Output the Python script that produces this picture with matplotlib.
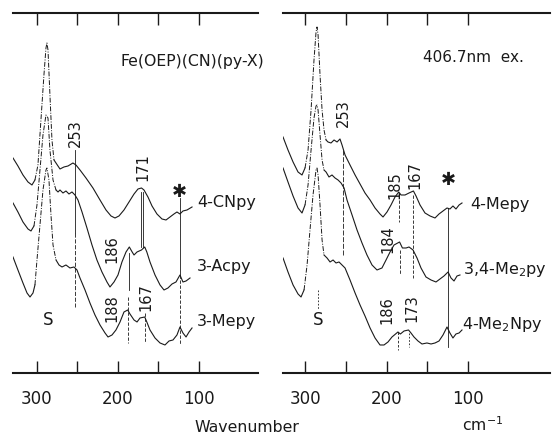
import matplotlib
matplotlib.use("Agg")
import matplotlib.pyplot as plt
import numpy as np

# Resonance Raman spectra, Fe(OEP)(CN)(py-X), 406.7 nm excitation.
# x: wavenumber (cm-1), y: intensity incl. vertical offset of each trace

# left panel
cnpy_wn = [329.6, 323.5, 317.3, 311.1, 306.2, 302.5,
           298.8, 295.1, 291.4, 288.9, 287.7, 286.4, 284.0, 281.5, 279.0,
           271.6, 266.7, 261.7, 255.6, 251.9, 246.9, 239.5, 230.9, 222.2, 214.8,
           208.6, 203.7, 198.8, 192.6, 186.4, 180.2, 175.3, 171.0, 167.9, 163.0,
           158.0, 151.9, 145.7, 140.7, 135.8, 130.9, 127.2, 123.5, 119.8, 114.8, 108.6]
cnpy_int = [215, 207, 198, 191, 188, 193,
            208, 253, 298, 325, 330, 323, 278, 233, 213,
            204, 206, 207, 210, 208, 203, 195, 185, 173, 163,
            157, 155, 157, 163, 171, 179, 184, 185, 183, 176,
            167, 159, 154, 153, 156, 159, 161, 159, 162, 163, 166]

acpy_wn = [329.6, 323.5, 317.3, 311.1, 307.4, 303.7,
           300.0, 296.3, 292.6, 288.9, 286.4, 284.0, 280.2, 276.5,
           274.0, 271.6, 267.9, 264.2, 260.5, 256.8, 253.1, 249.4, 244.4, 238.3,
           232.1, 226.0, 219.8, 213.6, 209.9, 204.9, 200.0, 195.1, 190.1, 186.0,
           182.5, 180.2, 176.5, 171.0, 167.0, 164.4, 160.5, 154.3, 148.1, 143.2,
           138.3, 133.3, 128.4, 123.5, 119.8, 116.0, 111.1]
acpy_int = [170, 161, 151, 144, 142, 147,
            168, 203, 238, 258, 255, 223, 193, 183,
            181, 183, 180, 182, 179, 181, 178, 173, 161, 145,
            128, 113, 101, 91, 86, 91, 98, 111, 121, 126,
            121, 118, 121, 123, 126, 121, 111, 98, 88, 83,
            85, 89, 91, 98, 91, 92, 95]

mepy3_wn = [329.6, 323.5, 317.3, 312.3, 308.6, 304.9, 302.5,
            300.0, 296.3, 292.6, 288.9, 287.7, 285.2, 282.7, 280.2, 276.5,
            272.8, 269.1, 264.2, 259.3, 254.3, 250.6, 246.9, 240.7, 234.6, 228.4,
            222.2, 216.0, 212.3, 207.4, 202.5, 197.5, 192.6, 188.0, 185.2, 180.2,
            176.5, 172.8, 167.0, 164.4, 160.5, 154.3, 148.1, 142.0, 137.0, 132.1,
            127.2, 123.5, 119.8, 116.0, 112.3, 108.6]
mepy3_int = [116, 103, 90, 80, 76, 80, 88,
             113, 148, 183, 203, 205, 193, 158, 128, 113,
             108, 106, 108, 105, 106, 103, 95, 83, 70, 58,
             48, 40, 36, 38, 43, 51, 61, 63, 59, 53,
             51, 55, 56, 51, 43, 35, 30, 28, 32, 33,
             38, 46, 40, 36, 41, 45]

# right panel
mepy4_wn = [327.0, 320.9, 314.7, 308.6, 303.7, 300.0,
            296.3, 292.6, 289.0, 286.5, 285.3, 284.0, 281.6, 279.1, 276.7, 274.2,
            271.8, 268.1, 264.4, 260.7, 257.1, 254.6, 250.9, 244.8, 238.6, 232.5,
            226.4, 220.2, 214.1, 208.0, 204.3, 199.4, 194.5, 189.6, 185.0, 182.2,
            177.3, 172.4, 167.0, 163.8, 158.9, 152.8, 146.6, 140.5, 135.6, 130.7,
            125.8, 122.2, 118.5, 114.8, 111.0, 107.4]
mepy4_int = [236, 223, 211, 201, 198, 205,
             223, 263, 313, 341, 346, 338, 298, 263, 243, 233,
             231, 230, 233, 231, 234, 228, 218, 208, 198, 189,
             180, 173, 165, 159, 156, 161, 168, 176, 181, 178,
             178, 180, 182, 177, 168, 160, 157, 155, 159, 162,
             165, 164, 167, 164, 168, 170]

me2py_wn = [327.0, 320.9, 314.7, 308.6, 303.7, 300.0,
            296.3, 292.6, 289.0, 286.5, 285.3, 284.0, 281.6, 279.1, 276.7,
            274.2, 270.6, 266.9, 263.2, 259.5, 255.8, 252.1, 248.5, 242.3, 236.2,
            230.1, 224.0, 217.8, 211.7, 205.6, 200.6, 195.7, 190.8, 184.0, 180.5,
            176.0, 172.4, 167.5, 162.6, 157.7, 151.6, 145.4, 139.3, 134.4, 129.5,
            124.5, 120.9, 117.2, 113.5, 109.9]
me2py_int = [205, 191, 177, 165, 160, 168,
             188, 223, 255, 267, 268, 263, 238, 213, 203,
             201, 196, 198, 195, 193, 190, 185, 173, 158, 143,
             130, 118, 108, 103, 105, 113, 121, 128, 131, 125,
             125, 126, 123, 115, 105, 96, 93, 91, 94, 97,
             101, 95, 92, 97, 98]

me2npy_wn = [327.0, 320.9, 314.7, 308.6, 304.9, 301.2,
             297.5, 293.9, 290.2, 286.5, 285.3, 284.0, 281.6, 279.1, 276.7,
             273.0, 269.3, 265.6, 262.0, 258.3, 254.6, 250.9, 244.8, 238.6, 232.5,
             226.4, 220.2, 214.1, 208.0, 203.1, 198.2, 193.3, 186.0, 183.0, 178.5,
             173.0, 170.0, 166.3, 161.4, 156.5, 150.4, 145.4, 140.5, 135.6, 130.7,
             125.8, 122.2, 118.5, 114.8, 111.0, 107.4]
me2npy_int = [115, 101, 88, 79, 76, 83,
              108, 143, 178, 203, 205, 198, 168, 133, 118,
              115, 111, 113, 110, 111, 108, 105, 93, 80, 68,
              57, 45, 35, 28, 28, 31, 36, 41, 39, 42,
              43, 40, 36, 32, 29, 30, 29, 30, 32, 38,
              46, 40, 35, 39, 40, 43]

# solvent (S) band limits drawn broken, per trace (high, low) in cm-1
left_s_edges = [(302.5, 279.0), (303.7, 276.5), (302.5, 276.5)]
right_s_edges = [(300.0, 274.2), (300.0, 276.7), (301.2, 276.7)]

left_names = ["4-CNpy", "3-Acpy", "3-Mepy"]
right_names = ["4-Mepy", "3,4-Me$_2$py", "4-Me$_2$Npy"]

# marked bands: (cm-1, from, to, style)
left_marks = [(253, 223, 140, "-"), (253, 140, 66, (0, (5, 2))),
              (171.6, 181, 126, "-"), (169.6, 181, 126, "-"),
              (186, 120, 83, "-"), (188, 76, 30, (0, (4, 2))),
              (167, 60, 30, (0, (4, 2))),
              (123.5, 175, 98, "-"), (123.5, 98, 28, (0, (4, 2)))]
right_marks = [(253, 223, 118, (0, (6, 2))), (185, 173, 151, (0, (4, 2))),
               (184, 123, 98, (0, (4, 2))), (186, 41, 23, (0, (3, 2))),
               (167, 178, 95, (0, (4, 2))), (173, 40, 26, (0, (2, 2))),
               (124.5, 165, 26, "-"), (284, 83, 63, (0, (2, 2)))]

ink = "#1a1a1a"

fig = plt.figure(figsize=(5.53, 4.33), dpi=100)
ax1 = fig.add_axes([0.0235, 0.1386, 0.4430, 0.8314])
ax2 = fig.add_axes([0.5118, 0.1386, 0.4828, 0.8314])


def draw_trace(ax, wn, inten, edges):
    wn = np.asarray(wn)
    inten = np.asarray(inten)
    hi, lo = edges
    left = wn >= hi
    right = wn <= lo
    band = (wn <= hi) & (wn >= lo)
    ax.plot(wn[left], inten[left], color=ink, lw=0.8)
    ax.plot(wn[right], inten[right], color=ink, lw=0.8)
    ax.plot(wn[band], inten[band], color=ink, lw=0.7,
            linestyle=(0, (5, 1.5, 1, 1.5)))


def style_axis(ax, xlim):
    ax.set_xlim(*xlim)
    ax.set_ylim(0, 360)
    for s in ("left", "right"):
        ax.spines[s].set_visible(False)
    for s in ("top", "bottom"):
        ax.spines[s].set_linewidth(1.5)
        ax.spines[s].set_color(ink)
    ax.set_yticks([])
    ax.set_xticks([300, 200, 100])
    ax.set_xticks([250, 150], minor=True)
    ax.tick_params(axis="x", which="both", direction="in", length=8.5,
                   width=1.0, top=True, bottom=True, colors=ink,
                   labelsize=12, pad=12)
    ax.patch.set_alpha(0)


for wn, inten, edges in zip([cnpy_wn, acpy_wn, mepy3_wn],
                            [cnpy_int, acpy_int, mepy3_int], left_s_edges):
    draw_trace(ax1, wn, inten, edges)
for wn, inten, edges in zip([mepy4_wn, me2py_wn, me2npy_wn],
                            [mepy4_int, me2py_int, me2npy_int], right_s_edges):
    draw_trace(ax2, wn, inten, edges)

for ax, marks in ((ax1, left_marks), (ax2, right_marks)):
    for x, y0, y1, ls in marks:
        ax.plot([x, x], [y0, y1], color=ink, lw=0.6, linestyle=ls)

style_axis(ax1, (329.6, 27.2))
style_axis(ax2, (327.0, -0.6))

# sample names
for ax, names, xs, ys in ((ax1, left_names, [102.5] * 3, [170, 106, 51]),
                          (ax2, right_names, [97.5, 106, 107.4], [168, 103, 48])):
    for name, x, y in zip(names, xs, ys):
        ax.text(x, y, name, fontsize=11.5, ha="left", va="center", color=ink)

# band positions
rot = dict(rotation=90, ha="center", va="center", fontsize=10.5, color=ink)
ax1.text(253, 240, "253", **rot)
ax1.text(169.5, 206, "171", **rot)
ax1.text(207, 124, "186", **rot)
ax1.text(207, 65, "188", **rot)
ax1.text(165, 76, "167", **rot)
ax2.text(253.4, 260, "253", **rot)
ax2.text(189.6, 188, "185", **rot)
ax2.text(165, 198, "167", **rot)
ax2.text(198, 134, "184", **rot)
ax2.text(199.4, 63, "186", **rot)
ax2.text(168.7, 65, "173", **rot)

ax1.text(124, 181, "✱", fontsize=13, ha="center", va="center", color=ink)
ax2.text(124.5, 193, "✱", fontsize=13, ha="center", va="center", color=ink)
ax1.text(286.4, 53, "S", fontsize=12, ha="center", va="center", color=ink)
ax2.text(284, 53, "S", fontsize=12, ha="center", va="center", color=ink)

ax1.text(197.5, 311, "Fe(OEP)(CN)(py-X)", fontsize=11.3, ha="left",
         va="center", color=ink)
ax2.text(155.2, 315, "406.7nm  ex.", fontsize=11, ha="left", va="center",
         color=ink)

fig.text(247 / 553, 1 - 427 / 433, "Wavenumber", fontsize=11.3,
         ha="center", va="center", color=ink)
fig.text(462 / 553, 1 - 425 / 433, "cm$^{-1}$", fontsize=11.3,
         ha="left", va="center", color=ink)

fig.savefig("out.png", dpi=100)
